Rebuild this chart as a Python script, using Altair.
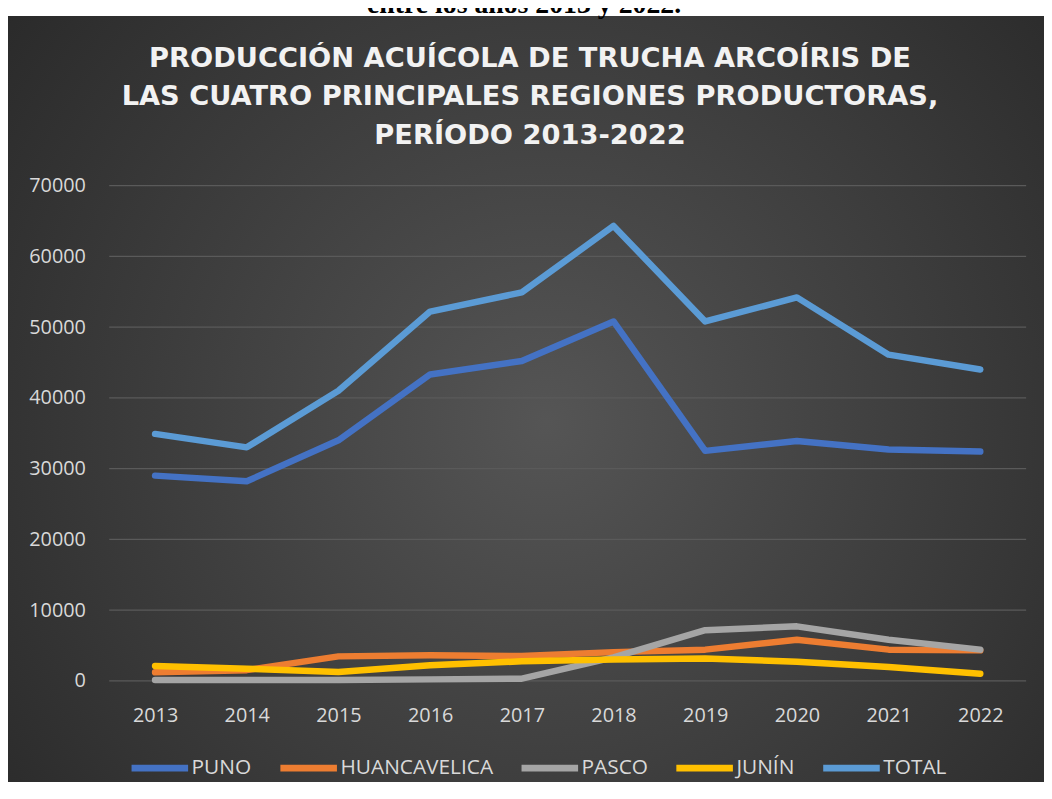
import altair as alt
import pandas as pd

# ---- data ----
YEARS = ["2013", "2014", "2015", "2016", "2017", "2018", "2019", "2020", "2021", "2022"]
SERIES = ["PUNO", "HUANCAVELICA", "PASCO", "JUNÍN", "TOTAL"]
COLORS = ["#4472C4", "#ED7D31", "#A5A5A5", "#FFC000", "#5B9BD5"]
PUNO = [29000, 28200, 34000, 43300, 45200, 50800, 32500, 33900, 32700, 32400]
HUANCAVELICA = [1200, 1500, 3450, 3600, 3500, 4050, 4400, 5800, 4400, 4300]
PASCO = [100, 100, 120, 200, 300, 3300, 7150, 7700, 5800, 4400]
JUNIN = [2100, 1700, 1250, 2200, 2750, 3000, 3150, 2700, 1950, 1000]
TOTAL = [34900, 33000, 41000, 52200, 54900, 64300, 50800, 54200, 46100, 44000]
Y_TICKS = [0, 10000, 20000, 30000, 40000, 50000, 60000, 70000]
TITLE_LINES = [
    "PRODUCCIÓN ACUÍCOLA DE TRUCHA ARCOÍRIS DE",
    "LAS CUATRO PRINCIPALES REGIONES PRODUCTORAS,",
    "PERÍODO 2013-2022",
]
SUBTITLE = "entre los años 2013 y 2022."

values = [PUNO, HUANCAVELICA, PASCO, JUNIN, TOTAL]
rows = []
for name, vals in zip(SERIES, values):
    for yr, v in zip(YEARS, vals):
        rows.append({"year": yr, "serie": name, "value": v})
df = pd.DataFrame(rows)
grid_df = pd.DataFrame({"value": Y_TICKS})

W, H = 924, 499
PAD_L, PAD_T = 102, 176
TOTAL_W, TOTAL_H = 1044, 774

FONT = "Open Sans"
LABEL_COLOR = "#d9d9d9"

y_scale = alt.Scale(domain=[0, 70000], nice=False)
y_axis = alt.Axis(values=Y_TICKS, format="d", domain=False, ticks=False, tickSize=0,
                  grid=False, labelFont=FONT, labelFontSize=20, labelColor=LABEL_COLOR,
                  labelPadding=24, title=None, zindex=1)

gradient = {
    "gradient": "radial",
    "x1": 0.52, "y1": 0.52, "r1": 0,
    "x2": 0.52, "y2": 0.52, "r2": 0.72,
    "stops": [
        {"offset": 0, "color": "#555555"},
        {"offset": 1, "color": "#262626"},
    ],
}

bg = alt.Chart(pd.DataFrame({"a": [0]})).mark_rect(fill=gradient).encode(
    x=alt.value(-PAD_L), x2=alt.value(TOTAL_W - PAD_L),
    y=alt.value(13 - 8 - PAD_T), y2=alt.value(TOTAL_H - PAD_T + 10),
)

subtitle = alt.Chart(pd.DataFrame({"a": [0]})).mark_text(
    text=SUBTITLE, font="Liberation Serif", fontWeight="bold", fontSize=28,
    color="#000000", align="center", baseline="alphabetic",
).encode(x=alt.value(418), y=alt.value(10 - 8 - PAD_T))

grid = alt.Chart(grid_df).mark_rule(color="#5a5a5a", strokeWidth=1.2).encode(
    y=alt.Y("value:Q", scale=y_scale, axis=y_axis)
)

lines = alt.Chart(df).mark_line(strokeWidth=6.5, strokeCap="round", strokeJoin="round").encode(
    x=alt.X("year:O", sort=YEARS,
            axis=alt.Axis(labelAngle=0, domain=False, ticks=False, tickSize=0, grid=False,
                          labelFont=FONT, labelFontSize=20, labelColor=LABEL_COLOR,
                          labelPadding=25, title=None, zindex=1)),
    y=alt.Y("value:Q", scale=y_scale, axis=y_axis),
    color=alt.Color("serie:N", sort=SERIES,
                    scale=alt.Scale(domain=SERIES, range=COLORS),
                    legend=alt.Legend(orient="none", legendX=19, legendY=555,
                                      direction="horizontal", title=None,
                                      symbolType="stroke", symbolSize=3249,
                                      symbolStrokeWidth=7, labelFont=FONT,
                                      labelFontSize=21, labelColor=LABEL_COLOR,
                                      labelOffset=0, columnPadding=14, zindex=1)),
)

title_layers = []
for i, line in enumerate(TITLE_LINES):
    title_layers.append(
        alt.Chart(pd.DataFrame({"a": [0]})).mark_text(
            text=line, font="DejaVu Sans", fontWeight="bold", fontSize=27.5,
            color="#f2f2f2", align="center", baseline="alphabetic",
        ).encode(x=alt.value(424), y=alt.value(-120 + 39 * i))
    )

chart = alt.layer(bg, subtitle, grid, lines, *title_layers).properties(
    width=W, height=H,
    autosize=alt.AutoSizeParams(type="none"),
    padding={"left": PAD_L, "top": PAD_T, "right": TOTAL_W - PAD_L - W,
             "bottom": TOTAL_H - PAD_T - H},
    background="white",
).configure_view(stroke=None)

chart.save("out.html", embed_options={"renderer": "svg", "actions": False})
